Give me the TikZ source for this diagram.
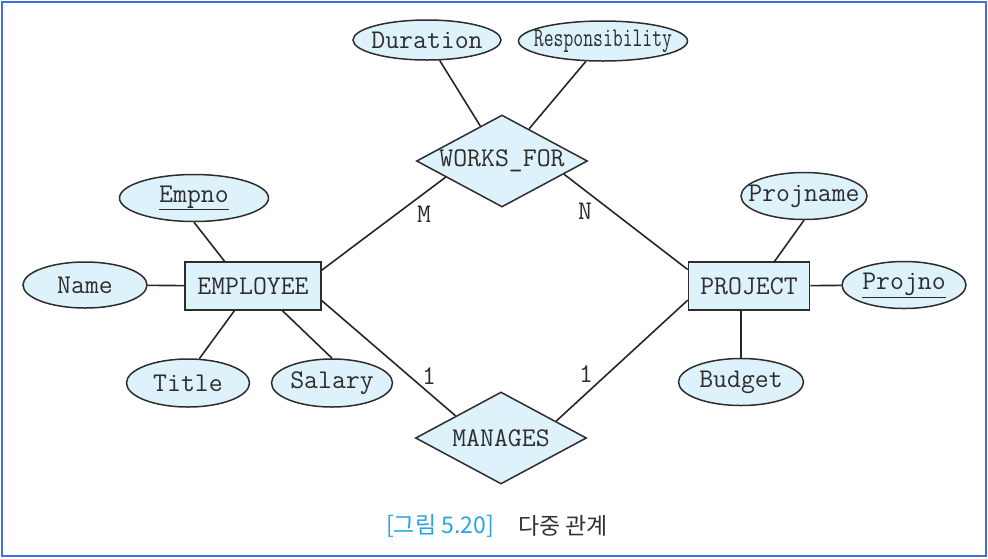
\documentclass[tikz,border=0pt]{standalone}
\usepackage{fontspec}
\usepackage{graphicx}
\usepackage{tikz}
\usetikzlibrary{shapes.geometric, calc}
\newfontfamily\cjk{Noto Sans CJK KR}
\definecolor{attrfill}{RGB}{222,242,251}
\definecolor{edgegray}{RGB}{45,45,45}
\definecolor{framecol}{RGB}{70,110,228}
\definecolor{capblue}{RGB}{41,163,229}
\definecolor{capgray}{RGB}{50,50,50}

\begin{document}
\begin{tikzpicture}[x=1pt, y=-1pt,
    every node/.style={font=\ttfamily\fontsize{27}{30}\selectfont, text=edgegray},
    attr/.style={ellipse, draw=edgegray, fill=attrfill, line width=1.5pt, inner xsep=-20pt, inner ysep=0pt},
    ent/.style={rectangle, draw=edgegray, fill=attrfill, line width=1.5pt, inner sep=0pt, minimum height=48pt},
    rel/.style={diamond, draw=edgegray, fill=attrfill, line width=1.5pt, aspect=1.86, inner sep=0pt, minimum width=171pt, minimum height=92pt},
    link/.style={line width=1.6pt, draw=black!85}]
          \useasboundingbox (0,0) rectangle (988,558);
          \draw[framecol, line width=2pt] (1.5,1.5) rectangle (986,556);

          % attributes and relationship on top
          \node[attr, minimum width=148pt, minimum height=40pt] (dur) at (427,40) {Duration};
          \node[attr, minimum width=169pt, minimum height=40pt] (resp) at (603,41) {\scalebox{0.71}[1]{Responsibility}};
          \node[rel] (wf) at (502,161) {WORKS\_FOR};

          % employee side
          \node[attr, minimum width=149pt, minimum height=47pt] (empno) at (194,198) {\underline{Empno}};
          \node[attr, minimum width=124pt, minimum height=46pt] (name) at (85,285) {Name};
          \node[ent, minimum width=136pt] (emp) at (253,286) {EMPLOYEE};
          \node[attr, minimum width=123pt, minimum height=48pt] (title) at (188,383) {Title};
          \node[attr, minimum width=121pt, minimum height=48pt] (salary) at (332,383) {Salary};

          % project side
          \node[attr, minimum width=126pt, minimum height=47pt] (pname) at (804,196) {Projname};
          \node[ent, minimum width=121pt] (proj) at (749,286) {PROJECT};
          \node[attr, minimum width=124pt, minimum height=47pt] (pno) at (904,285) {\underline{Projno}};
          \node[attr, minimum width=125pt, minimum height=47pt] (budget) at (741,382) {Budget};

          \node[rel] (mng) at (501,438) {MANAGES};

          % cardinalities
          \node (lblM) at (424,214) {M};
          \node (lblN) at (585,211) {N};
          \node (lblA) at (429,376) {1};
          \node (lblB) at (586,374) {1};

          \draw[link] (dur) -- (wf);
          \draw[link] (resp) -- (wf);
          \draw[link] (wf.196) -- (emp.13);
          \draw[link] (wf.348) -- (proj.165);
          \draw[link] (emp.348) -- (mng.154);
          \draw[link] (proj.193) -- (mng.17);
          \draw[link] (empno.south) -- (emp.139);
          \draw[link] (name) -- (emp);
          \draw[link] (title.65) -- (emp.233);
          \draw[link] (salary.north) -- (emp.320);
          \draw[link] (pname.south) -- (proj.44);
          \draw[link] (proj) -- (pno);
          \draw[link] (budget.north) -- (budget.north |- proj.south);

          % caption
          \node[font=\cjk\fontsize{23}{26}\selectfont, text=capblue, inner sep=0pt, anchor=east] (capnum) at (494,526) {[그림 5.20]};
          \node[font=\cjk\fontsize{23}{26}\selectfont, text=capgray, inner sep=0pt, anchor=west] (captxt) at (518,526) {다중 관계};
        \end{tikzpicture}
\end{document}
